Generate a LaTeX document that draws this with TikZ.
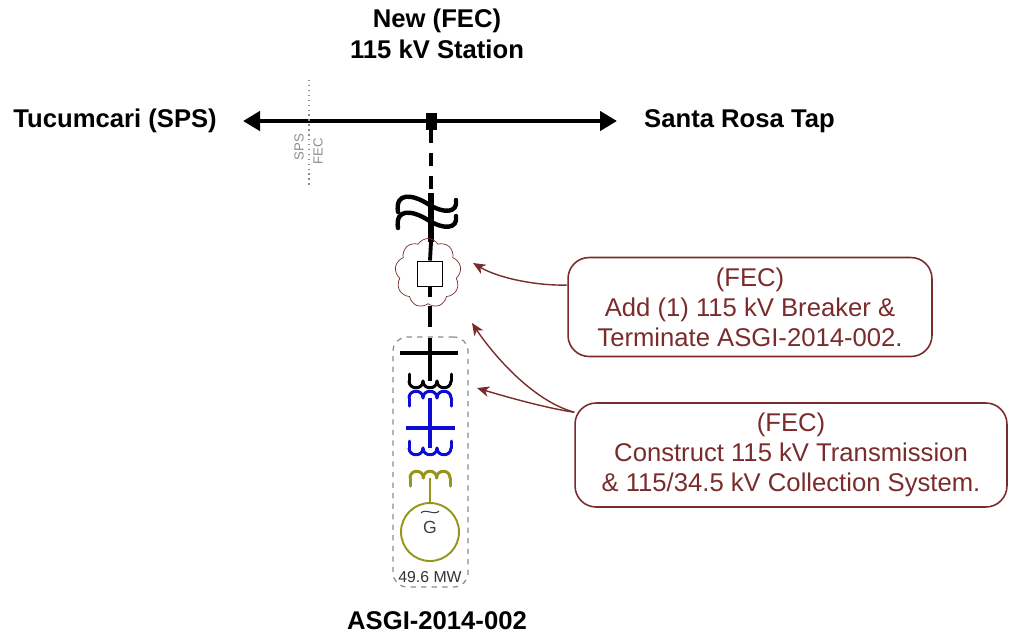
\documentclass[tikz,border=0pt]{standalone}
\usepackage{fontspec}
\setmainfont{Liberation Sans}
\usepackage{tikz}
\usetikzlibrary{shapes,arrows.meta,positioning,calc}
\usepackage{xcolor}
\definecolor{fecred}{RGB}{122,44,44}
\definecolor{coilblue}{RGB}{12,12,210}
\definecolor{genolive}{RGB}{150,150,28}
\definecolor{boxgray}{RGB}{140,140,140}

\tikzset{
    bigtext/.style={font=\bfseries\fontsize{14.6}{18}\selectfont, align=center},
    note/.style={draw=fecred, text=fecred, line width=0.9pt, rounded corners=12pt, align=center,
        font=\fontsize{14.6}{17}\selectfont},
    pointer/.style={fecred, line width=0.8pt, -{Stealth[length=7pt,width=6pt,inset=2pt]}},
    busline/.style={line width=2.8pt},
    coilline/.style={line width=1.7pt, line cap=round, line join=round},
    tinygray/.style={text=boxgray, font=\fontsize{7.5}{8}\selectfont, inner sep=0pt}
}

\begin{document}
\begin{tikzpicture}[x=0.02cm,y=-0.02cm]
    \useasboundingbox (0,0) rectangle (1020,637);

    % 115 kV line and new station
    \node[bigtext] (station) at (437,34) {New (FEC)\\115 kV Station};
    \node[fill=black, inner sep=0pt, minimum width=0.22cm, minimum height=0.34cm] (jct) at (431,121) {};
    \coordinate (westend) at (243,121);
    \coordinate (eastend) at (617,121);
    \draw[busline, {Triangle[length=0.34cm,width=0.38cm]}-{Triangle[length=0.34cm,width=0.38cm]}] (westend) -- (eastend);
    \node[bigtext, anchor=east] (tucum) at (223,121) {Tucumcari (SPS)};
    \node[bigtext, anchor=west] (rosa) at (638,121) {Santa Rosa Tap};

    % ownership border
    \coordinate (borderN) at (309,80);
    \coordinate (borderS) at (309,188);
    \draw[boxgray, dotted, line width=0.8pt] (borderN) -- (borderS);
    \node[tinygray, rotate=90] (sps) at (299,147) {SPS};
    \node[tinygray, rotate=90] (fec) at (318,151) {FEC};

    % line break symbol
    \coordinate (breaktop) at (431,193);
    \draw[busline, dash pattern=on 0.26cm off 0.2cm] (jct.south) -- (breaktop);
    \draw[line width=3.2pt] (breaktop) -- (431,242);
    \draw[line width=2.5pt, line cap=round] (398,212) .. controls (395,192) and (412,194) .. (428,204) .. controls (444,214) and (458,213) .. (456,200);
    \draw[line width=2.5pt, line cap=round] (398,228) .. controls (395,208) and (412,210) .. (428,220) .. controls (444,230) and (458,229) .. (456,216);

    % new breaker
    \node[cloud, draw=fecred, cloud puffs=9, cloud puff arc=120, aspect=1, minimum width=1.32cm, minimum height=1.38cm] (brkcloud) at (428,273) {};
    \node[draw, fill=white, line width=1.1pt, minimum size=0.5cm, inner sep=0pt] (brk) at (430,274) {};
    \draw[line width=2.2pt] (431,242) -- (brk.north);
    \draw[line width=2.2pt] (brk.south) -- (430,297);

    % ASGI-2014-002 facility
    \node[draw=boxgray, dashed, line width=0.7pt, rounded corners=8pt, minimum width=1.5cm, minimum height=5cm] (genbox) at (430.5,462) {};
    \coordinate (gsu) at (430,353);
    \draw[line width=2.2pt, dash pattern=on 0.42cm off 0.22cm] (430,306) -- (gsu);
    \draw[busline] (400,353) -- (458,353);
    \draw[busline] (gsu) -- (430,381);
    \draw[coilline] (409,374) -- (409,381) (451,381) -- (451,374);
    \foreach \x in {409,423,437}
        \draw[coilline] (\x,381) .. controls (\x,390) and (\x+14,390) .. (\x+14,381);

    % collector transformer
    \draw[coilline, coilblue] (409,406) -- (409,398) (451,398) -- (451,406);
    \foreach \x in {409,423,437}
        \draw[coilline, coilblue] (\x,398) .. controls (\x,389) and (\x+14,389) .. (\x+14,398);
    \draw[coilblue, line width=2pt] (430,398) -- (430,448);
    \draw[coilblue, busline] (406,428) -- (455,428);
    \draw[coilline, coilblue] (409,441) -- (409,448) (451,448) -- (451,441);
    \foreach \x in {409,423,437}
        \draw[coilline, coilblue] (\x,448) .. controls (\x,457) and (\x+14,457) .. (\x+14,448);

    % generator
    \draw[coilline, genolive] (410,486) -- (410,478) (450,478) -- (450,486);
    \foreach \x in {410,423.33,436.67}
        \draw[coilline, genolive] (\x,478) .. controls (\x,469) and (\x+13.33,469) .. (\x+13.33,478);
    \node[circle, draw=genolive, line width=1.1pt, minimum size=1.16cm] (gen) at (430,532) {};
    \draw[genolive, line width=1.4pt] (430,478) -- (gen.north);
    \node[font=\fontsize{10}{10}\selectfont, text=black!75] (glabel) at (430,527) {G};
    \draw[black!75, line width=0.6pt] (421,513) .. controls (425,508) and (435,516) .. (439,511);
    \node[font=\fontsize{9}{9}\selectfont, text=black!80] (rating) at (430,577) {49.6 MW};
    \node[bigtext] (asgi) at (437,621) {ASGI-2014-002};

    % notes
    \node[note, minimum width=7.28cm, minimum height=1.98cm] (note1) at (750,307)
        {(FEC)\\Add (1) 115 kV Breaker \&\\Terminate ASGI-2014-002.};
    \node[note, minimum width=8.64cm, minimum height=2.08cm] (note2) at (791,455)
        {(FEC)\\Construct 115 kV Transmission\\\& 115/34.5 kV Collection System.};

    \coordinate (brktip) at (473,263);
    \coordinate (linetip) at (472,323);
    \coordinate (gsutip) at (477,388);
    \draw[pointer] ($(note1.west)+(0,-22)$) .. controls (540,286) and (500,279) .. (brktip);
    \draw[pointer] ($(note2.north west)+(0,10)$) .. controls (530,400) and (490,350) .. (linetip);
    \draw[pointer] ($(note2.north west)+(0,10)$) .. controls (545,408) and (500,395) .. (gsutip);
\end{tikzpicture}
\end{document}
